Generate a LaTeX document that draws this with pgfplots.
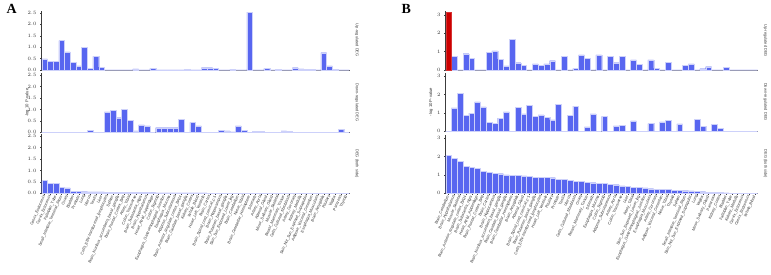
\documentclass[border=0pt]{standalone}
\usepackage{pgfplots}
\pgfplotsset{compat=1.18}
\usepackage{pgfplotstable}
\usepackage{fontspec}
\setmainfont{Liberation Sans}
\newfontfamily\letterfont{Liberation Serif}

\definecolor{barblue}{RGB}{88,102,240}
\definecolor{barred}{RGB}{204,0,0}
\definecolor{axisgray}{RGB}{60,60,60}

% Panel A: -log10 P per tissue (up-regulated, down-regulated, both sides)
\pgfplotstableread{
i up down both
0 0.49 0.00 0.56
1 0.39 0.00 0.43
2 0.39 0.00 0.43
3 1.29 0.01 0.26
4 0.80 0.00 0.24
5 0.33 0.01 0.10
6 0.18 0.01 0.09
7 1.00 0.00 0.07
8 0.07 0.10 0.06
9 0.60 0.01 0.06
10 0.13 0.01 0.06
11 0.00 0.90 0.05
12 0.00 0.96 0.05
13 0.00 0.64 0.05
14 0.00 1.01 0.045
15 0.00 0.52 0.04
16 0.05 0.06 0.035
17 0.00 0.32 0.03
18 0.00 0.28 0.03
19 0.07 0.00 0.025
20 0.01 0.20 0.02
21 0.01 0.20 0.02
22 0.01 0.20 0.02
23 0.01 0.20 0.02
24 0.01 0.56 0.02
25 0.02 0.00 0.015
26 0.01 0.43 0.015
27 0.01 0.28 0.015
28 0.10 0.00 0.015
29 0.10 0.00 0.01
30 0.06 0.00 0.01
31 0.00 0.09 0.01
32 0.00 0.06 0.01
33 0.02 0.02 0.01
34 0.00 0.28 0.01
35 0.00 0.09 0.01
36 2.54 0.00 0.01
37 0.00 0.03 0.01
38 0.00 0.03 0.01
39 0.07 0.00 0.01
40 0.00 0.00 0.01
41 0.02 0.00 0.01
42 0.00 0.06 0.005
43 0.00 0.03 0.005
44 0.10 0.01 0.00
45 0.05 0.01 0.00
46 0.03 0.01 0.00
47 0.04 0.01 0.00
48 0.00 0.01 0.00
49 0.76 0.01 0.00
50 0.18 0.01 0.00
51 0.02 0.00 0.00
52 0.00 0.13 0.00
53 0.00 0.00 0.00
}\tabA

% Panel B
\pgfplotstableread{
i up down both
0 0.00 0.00 2.07
1 0.76 1.28 1.91
2 0.00 2.09 1.73
3 0.89 0.88 1.48
4 0.64 0.99 1.42
5 0.00 1.60 1.38
6 0.00 1.34 1.20
7 0.95 0.50 1.13
8 1.05 0.42 1.10
9 0.60 0.72 1.07
10 0.22 1.06 1.00
11 1.67 0.00 0.99
12 0.40 1.32 0.98
13 0.25 0.95 0.95
14 0.00 1.41 0.92
15 0.33 0.81 0.88
16 0.25 0.90 0.87
17 0.33 0.77 0.86
18 0.51 0.62 0.85
19 0.00 1.49 0.76
20 0.76 0.00 0.76
21 0.00 0.86 0.72
22 0.09 1.38 0.65
23 0.82 0.00 0.64
24 0.64 0.24 0.61
25 0.00 0.95 0.58
26 0.82 0.00 0.56
27 0.00 0.81 0.54
28 0.76 0.00 0.49
29 0.40 0.29 0.47
30 0.73 0.33 0.41
31 0.00 0.00 0.38
32 0.55 0.57 0.32
33 0.31 0.00 0.31
34 0.00 0.00 0.29
35 0.55 0.42 0.25
36 0.09 0.00 0.23
37 0.00 0.51 0.22
38 0.42 0.61 0.20
39 0.00 0.00 0.18
40 0.00 0.40 0.16
41 0.25 0.00 0.14
42 0.33 0.00 0.13
43 0.00 0.64 0.11
44 0.07 0.28 0.09
45 0.18 0.00 0.07
46 0.00 0.37 0.05
47 0.00 0.18 0.04
48 0.15 0.00 0.02
49 0.00 0.00 0.00
50 0.00 0.00 0.00
51 0.00 0.00 0.00
52 0.00 0.00 0.00
53 0.00 0.00 0.00
}\tabB

\def\tissuesA{Cervix\_Endocervix,Cervix\_Ectocervix,Fallopian\_Tube,Small\_Intestine\_Terminal\_Ileum,Ovary,Bladder,Prostate,Lung,Uterus,Testis,Liver,Cells\_EBV-transformed\_lymphocytes,Spleen,Brain\_Nucleus\_accumbens\_basal\_ganglia,Brain\_Frontal\_Cortex\_BA9,Artery\_Tibial,Colon\_Transverse,Brain\_Substantia\_nigra,Brain\_Hypothalamus,Heart\_Atrial\_Appendage,Colon\_Sigmoid,Esophagus\_Gastroesophageal\_Junction,Esophagus\_Mucosa,Adipose\_Subcutaneous,Brain\_Anterior\_cingulate\_cortex\_BA24,Brain\_Caudate\_basal\_ganglia,Kidney\_Cortex,Whole\_Blood,Heart\_Left\_Ventricle,Brain\_Cortex,Brain\_Spinal\_cord\_cervical\_c-1,Brain\_Hippocampus,Brain\_Putamen\_basal\_ganglia,Skin\_Sun\_Exposed\_Lower\_leg,Brain\_Cerebellum,Nerve\_Tibial,Brain\_Cerebellar\_Hemisphere,Stomach,Artery\_Aorta,Adrenal\_Gland,Minor\_Salivary\_Gland,Muscle\_Skeletal,Breast\_Mammary\_Tissue,Cells\_Cultured\_fibroblasts,Artery\_Coronary,Kidney\_Medulla,Skin\_Not\_Sun\_Exposed\_Suprapubic,Adipose\_Visceral\_Omentum,Esophagus\_Muscularis,Brain\_Amygdala,Pituitary,Vagina,Pancreas,Thyroid}

\def\tissuesB{Brain\_Cerebellum,Brain\_Hypothalamus,Muscle\_Skeletal,Brain\_Anterior\_cingulate\_cortex\_BA24,Brain\_Substantia\_nigra,Heart\_Atrial\_Appendage,Brain\_Frontal\_Cortex\_BA9,Brain\_Cortex,Brain\_Hippocampus,Brain\_Nucleus\_accumbens\_basal\_ganglia,Brain\_Caudate\_basal\_ganglia,Brain\_Cerebellar\_Hemisphere,Brain\_Amygdala,Adrenal\_Gland,Brain\_Spinal\_cord\_cervical\_c-1,Brain\_Putamen\_basal\_ganglia,Cells\_EBV-transformed\_lymphocytes,Heart\_Left\_Ventricle,Pituitary,Prostate,Testis,Uterus,Cells\_Cultured\_fibroblasts,Ovary,Breast\_Mammary\_Tissue,Stomach,Esophagus\_Mucosa,Colon\_Sigmoid,Adipose\_Subcutaneous,Artery\_Aorta,Colon\_Transverse,Liver,Artery\_Tibial,Skin\_Sun\_Exposed\_Lower\_leg,Esophagus\_Gastroesophageal\_Junction,Esophagus\_Muscularis,Artery\_Coronary,Adipose\_Visceral\_Omentum,Nerve\_Tibial,Thyroid,Spleen,Small\_Intestine\_Terminal\_Ileum,Skin\_Not\_Sun\_Exposed\_Suprapubic,Lung,Vagina,Minor\_Salivary\_Gland,Pancreas,Kidney\_Cortex,Bladder,Fallopian\_Tube,Kidney\_Medulla,Cervix\_Ectocervix,Cervix\_Endocervix,Whole\_Blood}

\tikzset{
  sidelabel/.style={font=\fontsize{4}{4.5}\selectfont, text=black!75},
  pvallabel/.style={font=\fontsize{4.2}{4.5}\selectfont, text=black!80},
  bars/.style={fill=barblue, draw=white!70!barblue, line width=0.3bp},
}

\pgfplotsset{
  panel/.style={
    scale only axis,
    anchor=south west,
    xmin=-0.5, xmax=53.6, ymin=0,
    axis lines*=left,
    axis line style={axisgray, line width=0.5bp},
    every tick/.style={axisgray, line width=0.4bp},
    tick align=outside,
    major tick length=1.6bp,
    tick label style={font=\fontsize{3.9}{4}\selectfont, text=black!80},
    xtick=\empty,
    clip=false,
    ybar, bar width=1, bar shift=0,
  },
  panelA/.style={panel, width=308.3bp, height=59.3bp, ymax=2.6,
    ytick={0,0.5,...,2.5},
    yticklabel style={/pgf/number format/.cd, fixed, fixed zerofill, precision=1}},
  panelB/.style={panel, width=312.6bp, height=58.6bp, ymax=3.2,
    ytick={0,1,2,3}},
  namelabels/.style={
    xtick={0,...,53}, xticklabels/.expand once=#1,
    xticklabel style={rotate=67, anchor=east, inner sep=0.6bp,
      font=\fontsize{3.9}{4}\selectfont, text=black!80},
  },
}

\begin{document}
\begin{tikzpicture}
\useasboundingbox[fill=white] (0,0) rectangle (771bp,275bp);

\node[font=\letterfont\bfseries\fontsize{14}{14}\selectfont, anchor=north west] at (3bp,274bp) {A};
\node[font=\letterfont\bfseries\fontsize{14}{14}\selectfont, anchor=north west] at (398bp,274bp) {B};

% ---------------- Panel A ----------------
\begin{axis}[panelA, at={(41.7bp,205bp)}]
  \addplot[bars] table[x=i, y=up] {\tabA};
  \node[xshift=7bp, rotate=-90, sidelabel] at (rel axis cs:1,0.5) {Up-regulated DEG};
\end{axis}
\begin{axis}[panelA, at={(41.7bp,142.7bp)}]
  \addplot[bars] table[x=i, y=down] {\tabA};
  \node[xshift=7bp, rotate=-90, sidelabel] at (rel axis cs:1,0.5) {Down-regulated DEG};
  \node[xshift=-14.5bp, rotate=90, pvallabel] at (rel axis cs:0,0.5) {-log 10 P-value};
\end{axis}
\begin{axis}[panelA, at={(41.7bp,81.7bp)}, namelabels=\tissuesA]
  \addplot[bars] table[x=i, y=both] {\tabA};
  \node[xshift=7bp, rotate=-90, sidelabel] at (rel axis cs:1,0.5) {DEG (both side)};
\end{axis}

% ---------------- Panel B ----------------
\begin{axis}[panelB, at={(445.7bp,205bp)}]
  \addplot[bars] table[x=i, y=up] {\tabB};
  \addplot[fill=barred, draw=barred!80!white, line width=0.3bp] coordinates {(0,3.18)};
  \node[xshift=7bp, rotate=-90, sidelabel] at (rel axis cs:1,0.5) {Up-regulated DEG};
\end{axis}
\begin{axis}[panelB, at={(445.7bp,143.7bp)}]
  \addplot[bars] table[x=i, y=down] {\tabB};
  \node[xshift=7bp, rotate=-90, sidelabel] at (rel axis cs:1,0.5) {Down-regulated DEG};
  \node[xshift=-14.7bp, rotate=90, pvallabel] at (rel axis cs:0,0.5) {-log 10 P-value};
\end{axis}
\begin{axis}[panelB, at={(445.7bp,81.7bp)}, namelabels=\tissuesB]
  \addplot[bars] table[x=i, y=both] {\tabB};
  \node[xshift=7bp, rotate=-90, sidelabel] at (rel axis cs:1,0.5) {DEG (both side)};
\end{axis}
\end{tikzpicture}
\end{document}
